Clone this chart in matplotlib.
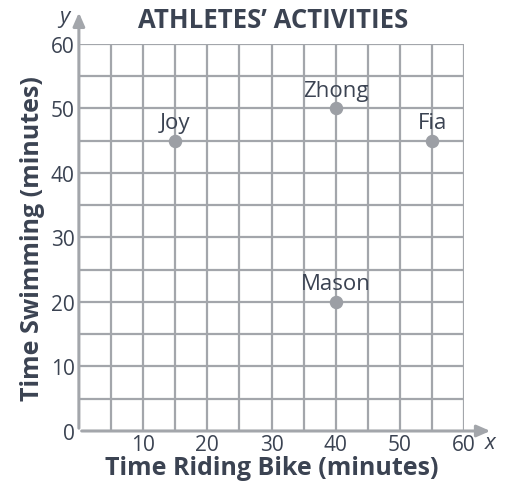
import matplotlib.pyplot as plt

# athlete data
names = ["Joy", "Zhong", "Fia", "Mason"]
bike_minutes = [15, 40, 55, 40]
swim_minutes = [45, 50, 45, 20]
x_ticks = [10, 20, 30, 40, 50, 60]
y_ticks = [0, 10, 20, 30, 40, 50, 60]

plt.rcParams['font.family'] = ['Open Sans', 'DejaVu Sans']
text_color = '#3b4352'
grid_color = '#a3a6ab'

fig = plt.figure(figsize=(5.09, 4.89), dpi=100)
ax = fig.add_axes([0.155, 0.1166, 0.757, 0.7914])
ax.set_xlim(0, 60)
ax.set_ylim(0, 60)

# grid every 5 minutes
for v in range(5, 61, 5):
    ax.axvline(v, color=grid_color, lw=1.6, zorder=1)
    ax.axhline(v, color=grid_color, lw=1.6, zorder=1)

for side in ax.spines.values():
    side.set_visible(False)

# axes with arrows
ax.annotate('', xy=(64.5, 0), xytext=(0, 0), xycoords='data',
            arrowprops=dict(arrowstyle='-|>,head_width=0.35,head_length=0.8',
                            color=grid_color, lw=2.2), annotation_clip=False)
ax.annotate('', xy=(0, 65.3), xytext=(0, 0), xycoords='data',
            arrowprops=dict(arrowstyle='-|>,head_width=0.35,head_length=0.8',
                            color=grid_color, lw=2.2), annotation_clip=False)

ax.scatter(bike_minutes, swim_minutes, s=75, color='#9c9fa5', zorder=3)
for n, x, y in zip(names, bike_minutes, swim_minutes):
    ax.text(x, y + 1.2, n, ha='center', va='bottom', fontsize=16,
            color=text_color, zorder=4)

ax.set_xticks(x_ticks)
ax.set_yticks(y_ticks)
ax.tick_params(length=0, labelsize=15, labelcolor=text_color)
ax.tick_params(axis='x', pad=2)
ax.tick_params(axis='y', pad=3)

ax.set_xlabel('Time Riding Bike (minutes)', fontsize=18, fontweight='bold',
              color=text_color, labelpad=0)
ax.set_ylabel('Time Swimming (minutes)', fontsize=18, fontweight='bold',
              color=text_color, labelpad=4)

ax.text(64.0, -1.8, 'x', fontsize=16, style='italic', color=text_color,
        ha='center', va='center')
ax.text(-2.3, 64.3, 'y', fontsize=16, style='italic', color=text_color,
        ha='center', va='center')

fig.text(0.537, 0.958, 'ATHLETES\u2019 ACTIVITIES', fontsize=18.5,
         fontweight='bold', color=text_color, ha='center', va='center')

fig.savefig('out.png', dpi=100)
